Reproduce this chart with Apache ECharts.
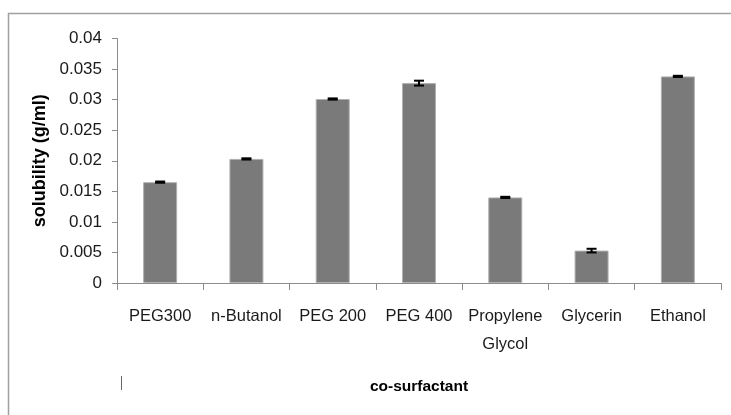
<!DOCTYPE html>
<html>
<head>
<meta charset="utf-8">
<script src="https://cdn.jsdelivr.net/npm/echarts@6/dist/echarts.min.js"></script>
<style>
  html, body { margin: 0; padding: 0; background: #fff; }
  #chart { width: 731px; height: 415px; }
</style>
</head>
<body>
<div id="chart"></div>
<script>
// co-surfactant solubility data
const categories = ['PEG300', 'n-Butanol', 'PEG 200', 'PEG 400', 'Propylene\nGlycol', 'Glycerin', 'Ethanol'];
const solubility = [0.0165, 0.0203, 0.0301, 0.0327, 0.0140, 0.0053, 0.0338];
const errors = [0.0001, 0.0001, 0.0001, 0.0004, 0.0001, 0.0003, 0.0001];
const yTicks = [0, 0.005, 0.01, 0.015, 0.02, 0.025, 0.03, 0.035, 0.04];

const chart = echarts.init(document.getElementById('chart'));
const font = 'Liberation Sans';

const errData = solubility.map((v, i) => [i, v - errors[i], v + errors[i]]);

const option = {
  animation: false,
  textStyle: { fontFamily: font },
  graphic: [
    {
      // outer chart frame (top + left edges visible in the crop)
      type: 'polyline',
      shape: { points: [[8.5, 415], [8.5, 13.5], [731, 13.5]] },
      style: { stroke: '#a0a0a0', lineWidth: 1.5, fill: null }
    },
    {
      type: 'line',
      shape: { x1: 121.5, y1: 376, x2: 121.5, y2: 390 },
      style: { stroke: '#666', lineWidth: 1 }
    }
  ],
  grid: { left: 117, right: 10, top: 38.5, bottom: 132 },
  xAxis: {
    type: 'category',
    data: categories,
    name: 'co-surfactant',
    nameLocation: 'middle',
    nameGap: 96,
    nameTextStyle: { fontFamily: font, fontSize: 15.5, fontWeight: 'bold', color: '#000' },
    axisLine: { lineStyle: { color: '#8c8c8c', width: 1 } },
    axisTick: { show: true, length: 7, lineStyle: { color: '#8c8c8c' } },
    axisLabel: { fontFamily: font, fontSize: 16.5, color: '#1a1a1a', margin: 19, lineHeight: 28, interval: 0 }
  },
  yAxis: {
    type: 'value',
    min: 0,
    max: 0.04,
    interval: 0.005,
    name: 'solubility (g/ml)',
    nameLocation: 'middle',
    nameGap: 60,
    nameRotate: 90,
    nameTextStyle: { fontFamily: font, fontSize: 18, fontWeight: 'bold', color: '#000' },
    axisLine: { show: true, lineStyle: { color: '#8c8c8c', width: 1 } },
    axisTick: { show: true, length: 5, lineStyle: { color: '#8c8c8c' } },
    splitLine: { show: false },
    axisLabel: {
      fontFamily: font, fontSize: 17, color: '#1a1a1a', margin: 15,
      formatter: v => {
        const t = yTicks.find(x => Math.abs(x - v) < 1e-9);
        return t === undefined ? '' : String(+t.toFixed(3));
      }
    }
  },
  series: [
    {
      type: 'bar',
      data: solubility,
      barWidth: 34,
      itemStyle: { color: '#7a7a7a', borderColor: '#b0b0b0', borderWidth: 1 }
    },
    {
      type: 'custom',
      data: errData,
      z: 10,
      renderItem: function (params, api) {
        const x = api.coord([api.value(0), api.value(1)])[0];
        const lo = api.coord([api.value(0), api.value(1)])[1];
        const hi = api.coord([api.value(0), api.value(2)])[1];
        const hw = 5;
        const st = { stroke: '#000', lineWidth: 2 };
        return {
          type: 'group',
          children: [
            { type: 'line', shape: { x1: x, y1: lo, x2: x, y2: hi }, style: st },
            { type: 'line', shape: { x1: x - hw, y1: lo, x2: x + hw, y2: lo }, style: st },
            { type: 'line', shape: { x1: x - hw, y1: hi, x2: x + hw, y2: hi }, style: st }
          ]
        };
      }
    }
  ]
};

chart.setOption(option);
</script>
</body>
</html>
